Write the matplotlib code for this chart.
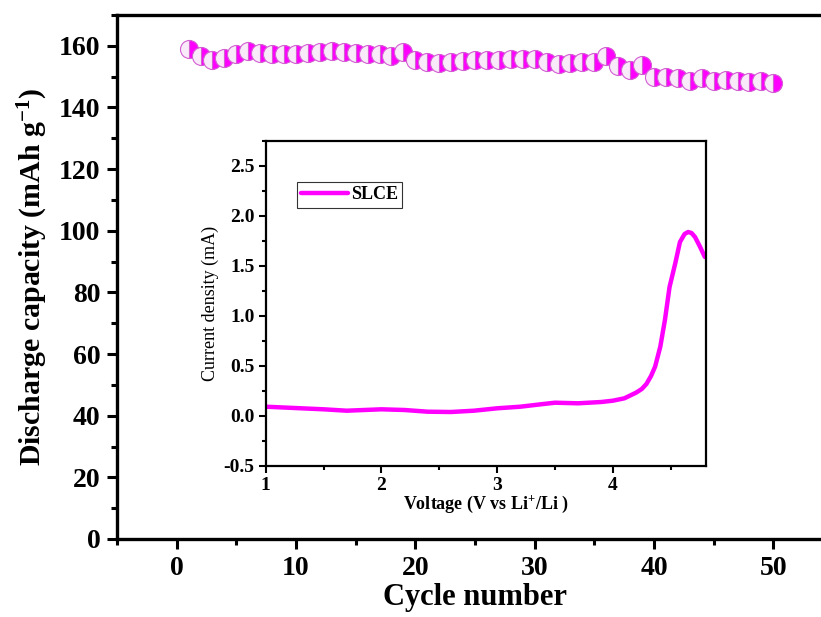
import numpy as np
import matplotlib
matplotlib.use('Agg')
import matplotlib.pyplot as plt
from matplotlib.ticker import MultipleLocator, FormatStrFormatter

plt.rcParams['font.family'] = ['Liberation Serif', 'DejaVu Serif']
plt.rcParams['mathtext.fontset'] = 'custom'
plt.rcParams['mathtext.rm'] = 'Liberation Serif:bold'
plt.rcParams['mathtext.bf'] = 'Liberation Serif:bold'
plt.rcParams['mathtext.default'] = 'bf'

# cycling data
cycles = np.arange(1, 51)
capacity = [159.0, 156.8, 155.5, 156.0, 157.4, 158.2, 157.7, 157.4, 157.4, 157.4,
            157.7, 157.9, 158.2, 157.9, 157.7, 157.5, 157.2, 156.8, 157.9, 155.5,
            154.8, 154.5, 154.8, 155.2, 155.5, 155.5, 155.5, 155.8, 155.6, 155.6,
            154.7, 154.1, 154.4, 154.9, 154.7, 156.6, 153.4, 152.0, 153.8, 149.8,
            149.8, 149.5, 148.7, 149.6, 148.7, 149.0, 148.7, 148.2, 148.5, 148.0]

# LSV data (inset)
voltage = [1.0, 1.5, 1.7, 2.0, 2.2, 2.4, 2.6, 2.8, 3.0, 3.2, 3.4, 3.5, 3.7, 3.9,
           4.0, 4.1, 4.2, 4.25, 4.29, 4.33, 4.365, 4.41, 4.45, 4.49, 4.54, 4.58,
           4.62, 4.65, 4.68, 4.71, 4.75, 4.795]
current = [0.093, 0.067, 0.053, 0.067, 0.06, 0.043, 0.04, 0.053, 0.077, 0.093, 0.12,
           0.133, 0.127, 0.14, 0.153, 0.177, 0.233, 0.27, 0.32, 0.4, 0.493, 0.693,
           0.96, 1.29, 1.53, 1.74, 1.82, 1.84, 1.83, 1.79, 1.70, 1.59]

W, H = 821, 617
fig = plt.figure(figsize=(W / 100, H / 100), dpi=100)

ax = fig.add_axes([117 / W, (H - 539) / H, (833 - 117) / W, (539 - 15) / H])
ax.plot(cycles, capacity, 'o', ms=13, fillstyle='right', color='#ff00ff',
        markerfacecolor='#ff00ff', markerfacecoloralt='#f8eaf8',
        markeredgecolor='#d35fd3', markeredgewidth=0.8)
ax.set_xlim(-5, 55)
ax.set_ylim(0, 170)
ax.xaxis.set_major_locator(MultipleLocator(10))
ax.xaxis.set_minor_locator(MultipleLocator(5))
ax.yaxis.set_major_locator(MultipleLocator(20))
ax.yaxis.set_minor_locator(MultipleLocator(10))
ax.tick_params(which='major', direction='out', length=7, width=2.2,
               labelsize=20, pad=5)
ax.tick_params(which='minor', direction='out', length=4, width=2.2)
ax.tick_params(top=False, right=False)
for lab in ax.get_xticklabels() + ax.get_yticklabels():
    lab.set_fontweight('bold')
for sp in ax.spines.values():
    sp.set_linewidth(2.4)
ax.set_xlabel('Cycle number', fontsize=22, fontweight='bold', labelpad=2)
ax.set_ylabel('Discharge capacity (mAh g$^{-1}$)', fontsize=21.5,
              fontweight='bold', labelpad=6)

# inset
ins = fig.add_axes([265.7 / W, (H - 466) / H, (706 - 265.7) / W, (466 - 141) / H])
ins.plot(voltage, current, '-', color='#ff00ff', lw=3.2, label='SLCE',
         solid_joinstyle='round', solid_capstyle='round')
ins.set_xlim(1, 4.805)
ins.set_ylim(-0.5, 2.75)
ins.xaxis.set_major_locator(MultipleLocator(1))
ins.xaxis.set_minor_locator(MultipleLocator(0.5))
ins.yaxis.set_major_locator(MultipleLocator(0.5))
ins.yaxis.set_minor_locator(MultipleLocator(0.25))
ins.yaxis.set_major_formatter(FormatStrFormatter('%.1f'))
ins.tick_params(which='major', direction='out', length=5, width=1.5,
                labelsize=14, pad=3)
ins.tick_params(which='minor', direction='out', length=3, width=1.5)
for lab in ins.get_xticklabels() + ins.get_yticklabels():
    lab.set_fontweight('bold')
for sp in ins.spines.values():
    sp.set_linewidth(1.6)
ins.set_xlabel('Voltage (V vs Li$^{+}$/Li )', fontsize=13, fontweight='bold',
               labelpad=0)
ins.set_ylabel('Current density (mA)', fontsize=13, labelpad=3)
leg = ins.legend(loc='upper left', bbox_to_anchor=(0.07, 0.875),
                 prop={'weight': 'bold', 'size': 13}, frameon=True, fancybox=False,
                 handlelength=2.6, borderpad=0.25, handletextpad=0.15,
                 borderaxespad=0)
leg.get_frame().set_edgecolor('black')
leg.get_frame().set_linewidth(0.8)

fig.savefig('out.png', dpi=100)
